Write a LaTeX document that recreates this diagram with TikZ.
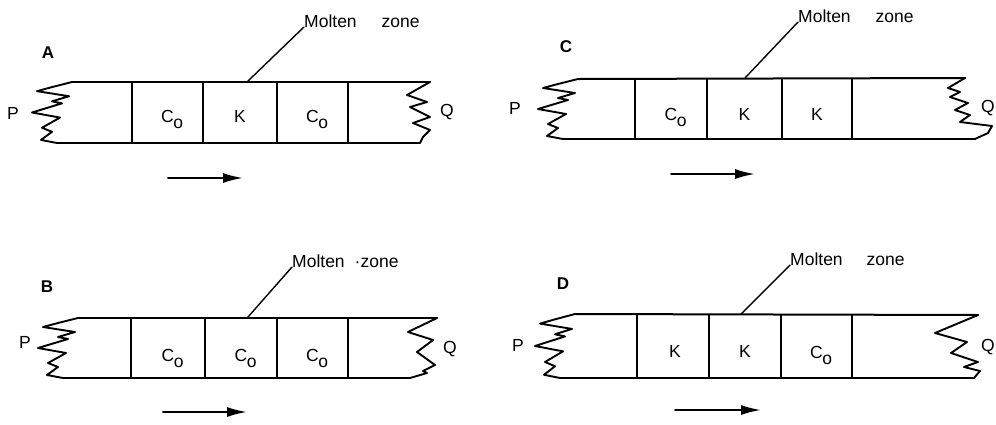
\documentclass[tikz,border=0pt]{standalone}
\usepackage{fontspec}
\setmainfont{Liberation Sans}
\usetikzlibrary{arrows.meta}
\newcommand{\Cosub}{C\rlap{\kern-0.5pt\raisebox{-6pt}{o}}}
\newcommand{\lzig}[3]{\draw[zig, shift={(#1,#2)}, yscale=#3/60] (0,0) -- (-20,5) -- (-35,9) -- (-3,14) -- (-20,19) -- (-10,21) -- (-40,30) -- (-12,35) -- (-30,45) -- (-20,49) -- (-31,57) -- (-15,60);}
\begin{document}
\begin{tikzpicture}[x=1pt,y=-1pt, line cap=round, line join=round,
  outline/.style={line width=2pt},
  zig/.style={line width=1.9pt},
  divider/.style={line width=1.6pt},
  leader/.style={line width=1.4pt},
  motion/.style={line width=2pt, -{Latex[length=20pt,width=10pt]}},
  lbl/.style={font=\fontsize{17.5}{20}\selectfont, inner sep=0pt},
  panel/.style={font=\fontsize{17}{20}\selectfont\bfseries, inner sep=0pt},
  cell/.style={lbl, anchor=base},
  zonetext/.style={lbl, anchor=base west}]
\useasboundingbox (0,0) rectangle (996,424);

% ---------------- Panel A ----------------
\draw[outline] (72,82) -- (430,82);
\draw[outline] (57,143) -- (420,143);
\lzig{72}{82}{61}
\draw[zig] (430,82) -- +(-23,13) -- +(-3,20) -- +(-20,25) -- +(0,35) -- +(-17,41) -- +(0,48) -- +(-7,55) -- +(-10,61);
\foreach \x in {132,203,277,348} \draw[divider] (\x,82) -- (\x,143);
\node[cell] (acellone) at (167.5,122) {\Cosub};
\node[cell] (acelltwo) at (240,122) {K};
\node[cell] (acellthree) at (312.5,122) {\Cosub};
\node[lbl] (pa) at (13,113) {P};
\node[lbl] (qa) at (447,112) {Q};
\node[panel] (la) at (48,53) {A};
\coordinate (ma) at (247,82);
\node[zonetext] (za) at (304,27) {Molten\hspace{25pt}zone};
\draw[leader] (ma) -- (za.base west);
\coordinate (arA0) at (168,178);
\coordinate (arA1) at (243,178);
\draw[motion] (arA0) -- (arA1);

% ---------------- Panel C ----------------
\draw[outline] (578,79) -- (965,78);
\draw[outline] (563,139) -- (975,139);
\lzig{578}{79}{60}
\draw[zig] (965,78) -- (948,88) -- (960,92) -- (950,97) -- (968,103) -- (955,110) -- (970,115) -- (960,122) -- (992,126) -- (988,133) -- (975,139);
\foreach \x in {635,707,782,852} \draw[divider] (\x,79) -- (\x,139);
\node[cell] (ccellone) at (671,120) {\Cosub};
\node[cell] (ccelltwo) at (744.5,120) {K};
\node[cell] (ccellthree) at (817,120) {K};
\node[lbl] (pc) at (515,108) {P};
\node[lbl] (qc) at (988,108) {Q};
\node[panel] (lc) at (566,47) {C};
\coordinate (mc) at (745,78);
\node[zonetext] (zc) at (798,22) {Molten\hspace{25pt}zone};
\draw[leader] (mc) -- (zc.base west);
\coordinate (arC0) at (671,174);
\coordinate (arC1) at (755,174);
\draw[motion] (arC0) -- (arC1);

% ---------------- Panel B ----------------
\draw[outline] (78,318) -- (437,318);
\draw[outline] (63,378) -- (410,378);
\lzig{78}{318}{60}
\draw[zig] (437,318) -- (408,332) -- (433,340) -- (417,352) -- (435,365) -- (423,371) -- (427,373) -- (410,378);
\foreach \x in {131,205,277,348} \draw[divider] (\x,318) -- (\x,378);
\node[cell] (bcellone) at (168,361) {\Cosub};
\node[cell] (bcelltwo) at (241,361) {\Cosub};
\node[cell] (bcellthree) at (312.5,361) {\Cosub};
\node[lbl] (pb) at (25,342) {P};
\node[lbl] (qb) at (450,349) {Q};
\node[panel] (lb) at (47,287) {B};
\coordinate (mb) at (248,317);
\node[zonetext] (zb) at (292,267) {Molten\hspace{10pt}·zone};
\draw[leader] (mb) -- (zb.base west);
\coordinate (arB0) at (163,412);
\coordinate (arB1) at (247,412);
\draw[motion] (arB0) -- (arB1);

% ---------------- Panel D ----------------
\draw[outline] (575,314) -- (978,315);
\draw[outline] (560,378) -- (974,378);
\lzig{575}{314}{64}
\draw[zig] (978,315) -- (935,333) -- (967,342) -- (951,353) -- (978,362) -- (964,367) -- (980,371) -- (974,378);
\foreach \x in {637,709,781,852} \draw[divider] (\x,315) -- (\x,378);
\node[cell] (dcellone) at (675,357) {K};
\node[cell] (dcelltwo) at (745,357) {K};
\node[cell] (dcellthree) at (816.5,358) {\Cosub};
\node[lbl] (pd) at (518,345) {P};
\node[lbl] (qd) at (988,347) {Q};
\node[panel] (ld) at (563,284) {D};
\coordinate (md) at (741,314);
\node[zonetext] (zd) at (790,265) {Molten\hspace{24pt}zone};
\draw[leader] (md) -- (zd.base west);
\coordinate (arD0) at (675,410);
\coordinate (arD1) at (761,410);
\draw[motion] (arD0) -- (arD1);
\end{tikzpicture}
\end{document}
